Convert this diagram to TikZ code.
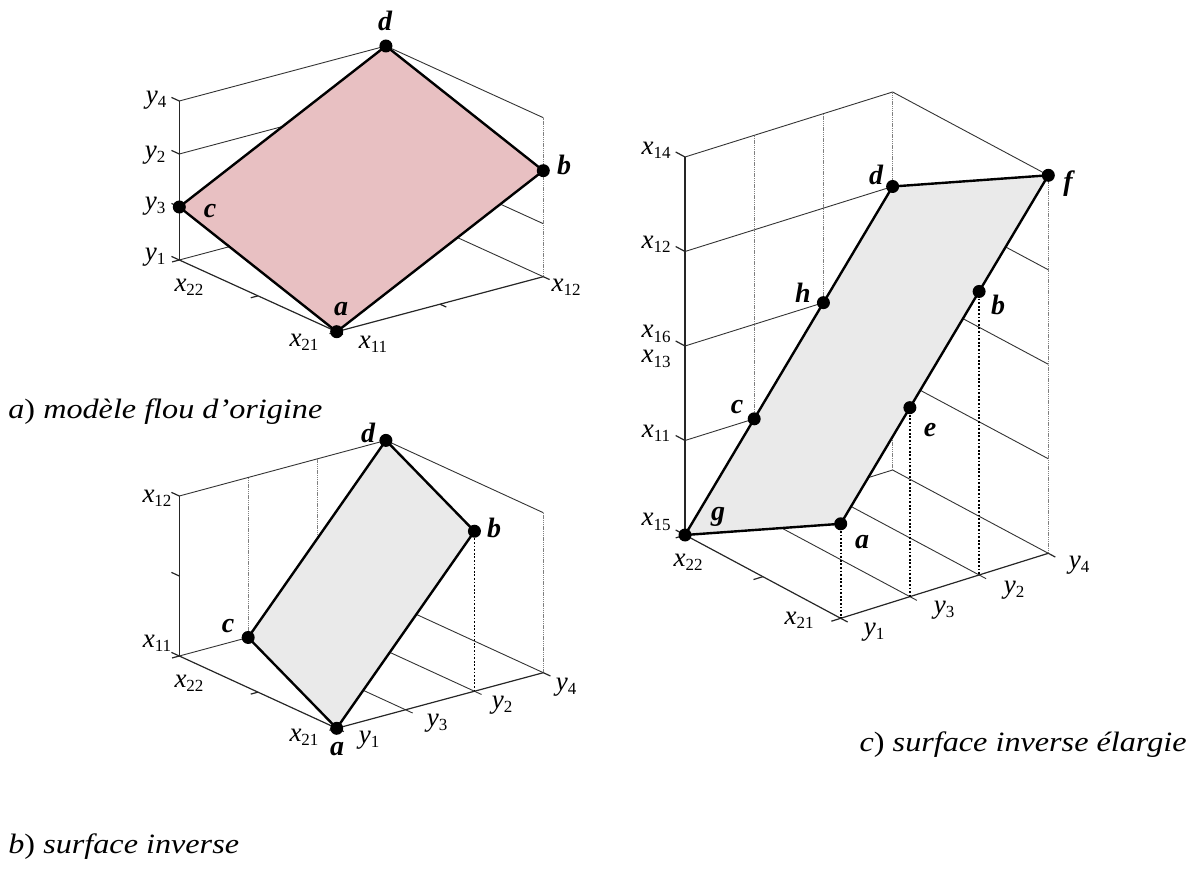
\documentclass[tikz,border=0pt]{standalone}
\usepackage{fontspec}
\setmainfont{Liberation Serif}
\newfontfamily\capfont[FakeStretch=1.15]{Liberation Serif}
\usetikzlibrary{calc}
\definecolor{pinkfill}{RGB}{232,192,194}
\definecolor{grayfill}{RGB}{234,234,234}
\tikzset{
 gridl/.style={line width=0.45pt, draw=black!80},
 vgrid/.style={line width=0.5pt, draw=black!50, dash pattern=on 0.7pt off 0.4pt},
 axisl/.style={line width=0.6pt, draw=black!85},
 edgel/.style={line width=1.2pt, line join=round},
 proj/.style={line width=0.9pt, dash pattern=on 0.9pt off 0.9pt},
 dot/.style={circle, fill=black, inner sep=0pt, minimum size=6.5pt},
 ptlab/.style={font=\fontsize{14}{14}\selectfont\bfseries\itshape, inner sep=0pt},
 axlab/.style={font=\fontsize{13.5}{13.5}\selectfont, inner sep=0pt},
 caplab/.style={font=\fontsize{14}{14}\selectfont\capfont, inner sep=0pt},
}
\newcommand\ax[2]{\textit{#1}\raisebox{-0.35ex}{\fontsize{8.5}{8.5}\selectfont #2}}
\newcommand\mkpt[5]{\coordinate (#1#2) at ($(#1O)+#3*(#1U)+#4*(#1V)+#5*(#1W)$);}
\newcommand\tk[3]{\draw[axisl] (#1) -- ($(#1)+#3*(#2)$);}
\begin{document}
\begin{tikzpicture}[x=0.5pt,y=-0.5pt]
\useasboundingbox (0,0) rectangle (1192,892);

% ================= Diagram A (top-left) =================
\coordinate (AO) at (336.7,331.7);
\coordinate (AU) at (-157.4,-71.7);
\coordinate (AV) at (206.6,-55);
\coordinate (AW) at (0,-159);
\mkpt{A}{a}{0}{0}{0}
\mkpt{A}{b}{0}{1}{0.6667}
\mkpt{A}{c}{1}{0}{0.3333}
\mkpt{A}{d}{1}{1}{1}
\mkpt{A}{L}{1}{0}{0}
\mkpt{A}{R}{0}{1}{0}
\mkpt{A}{B}{1}{1}{0}
\mkpt{A}{Lt}{1}{0}{1}
\mkpt{A}{Rt}{0}{1}{1}
\mkpt{A}{Ltwo}{1}{0}{0.6667}
\mkpt{A}{Btwo}{1}{1}{0.6667}
\mkpt{A}{Lthree}{1}{0}{0.3333}
\mkpt{A}{Rthree}{0}{1}{0.3333}
\mkpt{A}{Bthree}{1}{1}{0.3333}
\mkpt{A}{Um}{0.5}{0}{0}
\mkpt{A}{Vm}{0}{0.5}{0}

\draw[gridl] (AL)--(AB)--(AR);
\draw[gridl] (ALt)--(Ad)--(ARt);
\draw[gridl] (ALtwo)--(ABtwo);
\draw[gridl] (ARthree)--(ABthree);
\draw[vgrid] (AR)--(ARt);
\draw[vgrid] (AB)--(Ad);
\draw[axisl] (AL)--(ALt);
\draw[axisl] (AL)--(Aa)--(AR);
\tk{AL}{AU}{0.05}\tk{ALthree}{AU}{0.05}\tk{ALtwo}{AU}{0.05}\tk{ALt}{AU}{0.05}
\tk{Aa}{AV}{-0.035}\tk{AUm}{AV}{-0.035}\tk{AL}{AV}{-0.035}
\tk{Aa}{AU}{-0.04}\tk{AVm}{AU}{-0.04}\tk{AR}{AU}{-0.04}

\fill[pinkfill] (Aa)--(Ab)--(Ad)--(Ac)--cycle;
\draw[edgel] (Aa)--(Ab)--(Ad)--(Ac)--cycle;
\node[dot] (Ada) at (Aa) {};
\node[dot] (Adb) at (Ab) {};
\node[dot] (Adc) at (Ac) {};
\node[dot] (Add) at (Ad) {};
\node[ptlab] (Ala) at (341,309) {a};
\node[ptlab] (Alb) at (564,165) {b};
\node[ptlab] (Alc) at (210,211) {c};
\node[ptlab] (Ald) at (385,21) {d};
\node[axlab] (Ay4) at (156,100) {\ax{y}{4}};
\node[axlab] (Ay2) at (155,155) {\ax{y}{2}};
\node[axlab] (Ay3) at (155,206) {\ax{y}{3}};
\node[axlab] (Ay1) at (155,257) {\ax{y}{1}};
\node[axlab] (Ax22) at (189,287) {\ax{x}{22}};
\node[axlab] (Ax21) at (304,342) {\ax{x}{21}};
\node[axlab] (Ax11) at (373,344) {\ax{x}{11}};
\node[axlab] (Ax12) at (566,287) {\ax{x}{12}};
\node[caplab, anchor=west] (Acap) at (8,412) {\textit{a}) \textit{modèle flou d’origine}};

% ================= Diagram B (bottom-left) =================
\coordinate (BO) at (336.7,728.3);
\coordinate (BU) at (-157.4,-72.3);
\coordinate (BV) at (206.6,-55.6);
\coordinate (BW) at (0,-160);
\mkpt{B}{a}{0}{0}{0}
\mkpt{B}{b}{0}{0.6667}{1}
\mkpt{B}{c}{1}{0.3333}{0}
\mkpt{B}{d}{1}{1}{1}
\mkpt{B}{L}{1}{0}{0}
\mkpt{B}{R}{0}{1}{0}
\mkpt{B}{B}{1}{1}{0}
\mkpt{B}{Lt}{1}{0}{1}
\mkpt{B}{Rt}{0}{1}{1}
\mkpt{B}{Lm}{1}{0}{0.5}
\mkpt{B}{Um}{0.5}{0}{0}
\mkpt{B}{Vthree}{0}{0.3333}{0}
\mkpt{B}{Vtwo}{0}{0.6667}{0}
\mkpt{B}{Vthreeo}{-0.045}{0.3333}{0}
\mkpt{B}{Vtwoo}{-0.045}{0.6667}{0}
\mkpt{B}{Wthree}{1}{0.3333}{0}
\mkpt{B}{Wtwo}{1}{0.6667}{0}
\mkpt{B}{Wthreet}{1}{0.3333}{1}
\mkpt{B}{Wtwot}{1}{0.6667}{1}

\draw[gridl] (BL)--(BB)--(BR);
\draw[gridl] (BLt)--(Bd)--(BRt);
\draw[gridl] (BVthreeo)--(BWthree);
\draw[gridl] (BVtwoo)--(BWtwo);
\draw[vgrid] (BWthree)--(BWthreet);
\draw[vgrid] (BWtwo)--(BWtwot);
\draw[vgrid] (BR)--(BRt);
\draw[vgrid] (BB)--(Bd);
\draw[axisl] (BL)--(BLt);
\draw[axisl] (BL)--(Ba)--(BR);
\tk{BL}{BU}{0.05}\tk{BLm}{BU}{0.05}\tk{BLt}{BU}{0.05}
\tk{Ba}{BV}{-0.035}\tk{BUm}{BV}{-0.035}\tk{BL}{BV}{-0.035}
\tk{Ba}{BU}{-0.045}\tk{BR}{BU}{-0.045}

\fill[grayfill] (Ba)--(Bb)--(Bd)--(Bc)--cycle;
\draw[edgel] (Ba)--(Bb)--(Bd)--(Bc)--cycle;
\draw[proj] (Bb)--(BVtwo);
\node[dot] (Bda) at (Ba) {};
\node[dot] (Bdb) at (Bb) {};
\node[dot] (Bdc) at (Bc) {};
\node[dot] (Bdd) at (Bd) {};
\node[ptlab] (Bla) at (337,749) {a};
\node[ptlab] (Blb) at (494,528) {b};
\node[ptlab] (Blc) at (228,626) {c};
\node[ptlab] (Bld) at (368,433) {d};
\node[axlab] (Bx12) at (157,498) {\ax{x}{12}};
\node[axlab] (Bx11) at (157,643) {\ax{x}{11}};
\node[axlab] (Bx22) at (189,683) {\ax{x}{22}};
\node[axlab] (Bx21) at (304,737) {\ax{x}{21}};
\node[axlab] (By1) at (369,740) {\ax{y}{1}};
\node[axlab] (By3) at (437,723) {\ax{y}{3}};
\node[axlab] (By2) at (502,705) {\ax{y}{2}};
\node[axlab] (By4) at (566,687) {\ax{y}{4}};
\node[caplab, anchor=west] (Bcap) at (8,847) {\textit{b}) \textit{surface inverse}};

% ================= Diagram C (right) =================
\coordinate (CO) at (840.7,618.3);
\coordinate (CU) at (-155.7,-83.3);
\coordinate (CV) at (207.6,-65);
\coordinate (CW) at (0,-94.5);
\mkpt{C}{a}{0}{0}{1}
\mkpt{C}{e}{0}{0.3333}{2}
\mkpt{C}{b}{0}{0.6667}{3}
\mkpt{C}{f}{0}{1}{4}
\mkpt{C}{g}{1}{0}{0}
\mkpt{C}{c}{1}{0.3333}{1}
\mkpt{C}{h}{1}{0.6667}{2}
\mkpt{C}{d}{1}{1}{3}
\mkpt{C}{F}{0}{0}{0}
\mkpt{C}{R}{0}{1}{0}
\mkpt{C}{B}{1}{1}{0}
\mkpt{C}{Lt}{1}{0}{4}
\mkpt{C}{Bt}{1}{1}{4}
\mkpt{C}{Lone}{1}{0}{1}
\mkpt{C}{Ltwo}{1}{0}{2}
\mkpt{C}{Lthree}{1}{0}{3}
\mkpt{C}{Bone}{1}{1}{1}
\mkpt{C}{Btwo}{1}{1}{2}
\mkpt{C}{Rone}{0}{1}{1}
\mkpt{C}{Rtwo}{0}{1}{2}
\mkpt{C}{Rthree}{0}{1}{3}
\mkpt{C}{Um}{0.5}{0}{0}
\mkpt{C}{Vthree}{0}{0.3333}{0}
\mkpt{C}{Vtwo}{0}{0.6667}{0}
\mkpt{C}{Vthreeo}{-0.045}{0.3333}{0}
\mkpt{C}{Vtwoo}{-0.045}{0.6667}{0}
\mkpt{C}{Wthree}{1}{0.3333}{0}
\mkpt{C}{Wtwo}{1}{0.6667}{0}
\mkpt{C}{Wthreet}{1}{0.3333}{4}
\mkpt{C}{Wtwot}{1}{0.6667}{4}

\draw[gridl] (Cg)--(CB)--(CR);
\draw[gridl] (CLt)--(CBt)--(Cf);
\draw[gridl] (CLone)--(CBone);
\draw[gridl] (CLtwo)--(CBtwo);
\draw[gridl] (CLthree)--(Cd);
\draw[gridl] (CRone)--(CBone);
\draw[gridl] (CRtwo)--(CBtwo);
\draw[gridl] (CRthree)--(Cd);
\draw[gridl] (CVthreeo)--(CWthree);
\draw[gridl] (CVtwoo)--(CWtwo);
\draw[vgrid] (CWthree)--(CWthreet);
\draw[vgrid] (CWtwo)--(CWtwot);
\draw[vgrid] (CB)--(CBt);
\draw[vgrid] (CR)--(Cf);
\draw[axisl] (Cg)--(CLt);
\draw[axisl] (Cg)--(CF)--(CR);
\tk{Cg}{CU}{0.06}\tk{CLone}{CU}{0.06}\tk{CLtwo}{CU}{0.06}\tk{CLthree}{CU}{0.06}\tk{CLt}{CU}{0.06}
\tk{CF}{CV}{-0.045}\tk{CUm}{CV}{-0.045}\tk{Cg}{CV}{-0.045}
\tk{CF}{CU}{-0.045}\tk{CR}{CU}{-0.045}

\fill[grayfill] (Cg)--(Cc)--(Ch)--(Cd)--(Cf)--(Cb)--(Ce)--(Ca)--cycle;
\draw[edgel] (Cg)--(Cc)--(Ch)--(Cd)--(Cf)--(Cb)--(Ce)--(Ca)--cycle;
\draw[proj] (Ca)--(CF);
\draw[proj] (Ce)--(CVthree);
\draw[proj] (Cb)--(CVtwo);
\node[dot] (Cda) at (Ca) {};
\node[dot] (Cdb) at (Cb) {};
\node[dot] (Cdc) at (Cc) {};
\node[dot] (Cdd) at (Cd) {};
\node[dot] (Cde) at (Ce) {};
\node[dot] (Cdf) at (Cf) {};
\node[dot] (Cdg) at (Cg) {};
\node[dot] (Cdh) at (Ch) {};
\node[ptlab] (Cla) at (862,542) {a};
\node[ptlab] (Clb) at (998,305) {b};
\node[ptlab] (Clc) at (737,407) {c};
\node[ptlab] (Cld) at (876,175) {d};
\node[ptlab] (Cle) at (930,430) {e};
\node[ptlab] (Clf) at (1068,184) {f};
\node[ptlab] (Clg) at (718,517) {g};
\node[ptlab] (Clh) at (803,293) {h};
\node[axlab] (Cx14) at (656,150) {\ax{x}{14}};
\node[axlab] (Cx12) at (656,244) {\ax{x}{12}};
\node[axlab] (Cx16) at (656,334) {\ax{x}{16}};
\node[axlab] (Cx13) at (656,359) {\ax{x}{13}};
\node[axlab] (Cx11) at (656,433) {\ax{x}{11}};
\node[axlab] (Cx15) at (656,522) {\ax{x}{15}};
\node[axlab] (Cx22) at (688,562) {\ax{x}{22}};
\node[axlab] (Cx21) at (799,620) {\ax{x}{21}};
\node[axlab] (Cy1) at (874,632) {\ax{y}{1}};
\node[axlab] (Cy3) at (944,610) {\ax{y}{3}};
\node[axlab] (Cy2) at (1014,590) {\ax{y}{2}};
\node[axlab] (Cy4) at (1079,565) {\ax{y}{4}};
\node[caplab, anchor=east] (Ccap) at (1187,745) {\textit{c}) \textit{surface inverse élargie}};
\end{tikzpicture}
\end{document}
